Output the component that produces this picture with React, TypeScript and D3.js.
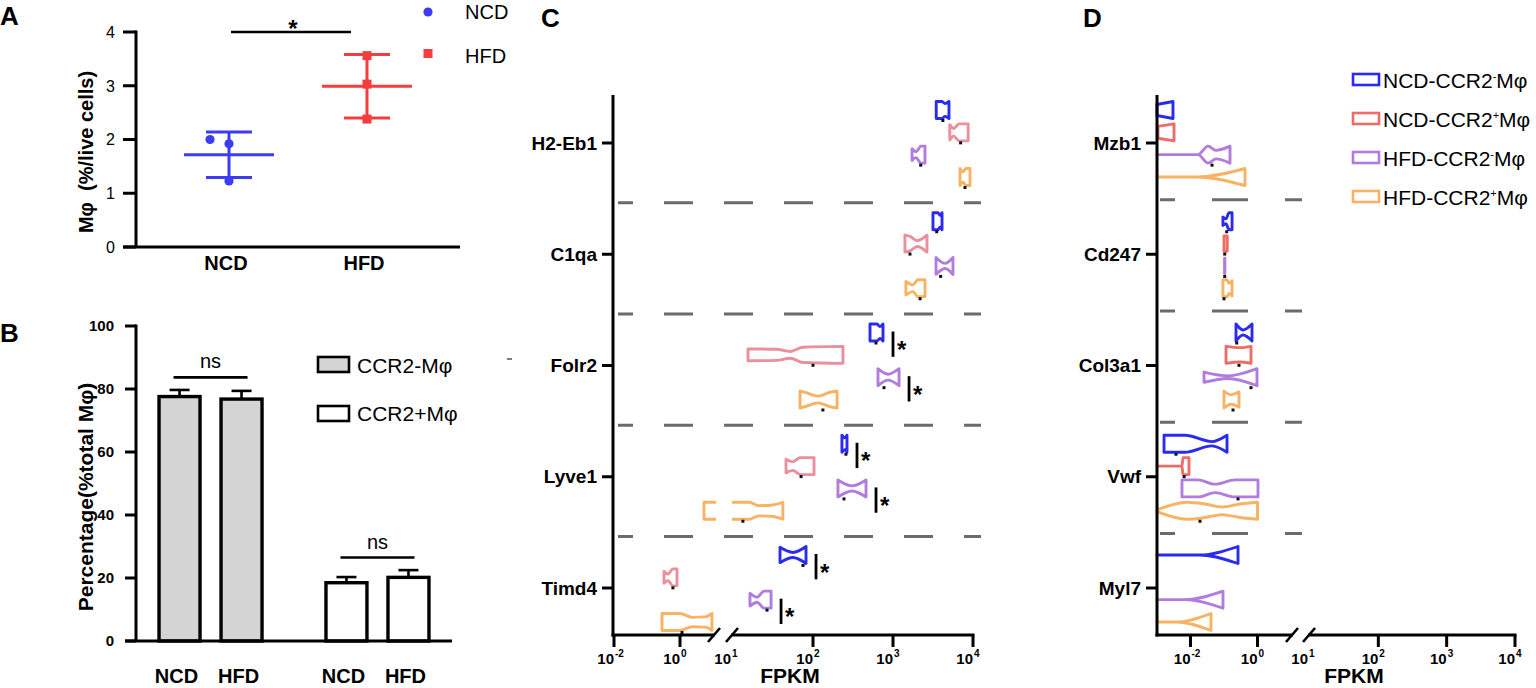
import React from "react";
import * as d3 from "d3";

const FONT = "'Liberation Sans', Arial, Helvetica, sans-serif";

// ---------- panel A : Mφ % of live cells
const aGroups = ["NCD", "HFD"];
const aNcd = [2.0, 1.92, 1.23];
const aHfd = [3.56, 3.03, 2.38];
const aColors = ["#3c3cf4", "#f43d3d"];
const aTicks = [0, 1, 2, 3, 4];

// ---------- panel B : CCR2- / CCR2+ share of Mφ
const bSubsets = ["CCR2-Mφ", "CCR2+Mφ"];
const bDiets = ["NCD", "HFD"];
const bMeanNeg = [77.6, 76.8];
const bErrNeg = [2.1, 2.6];
const bMeanPos = [18.5, 20.2];
const bErrPos = [1.8, 2.3];
const bFills = ["#d4d4d4", "#ffffff"];
const bTicks = [0, 20, 40, 60, 80, 100];

// ---------- panels C, D : FPKM notched profiles [FPKM, relative width]
const cellDiet = ["NCD", "NCD", "HFD", "HFD"];
const cellSign = ["-", "+", "-", "+"];
const cellTypes = ["NCD-CCR2-", "NCD-CCR2+", "HFD-CCR2-", "HFD-CCR2+"];
const colorsC = ["#2b2bf0", "#ea8f9c", "#b07ddc", "#f7b263"];
const colorsD = ["#2b2bf0", "#ec6d67", "#b07ddc", "#f7b263"];

const genesC = ["H2-Eb1", "C1qa", "Folr2", "Lyve1", "Timd4"];
const genesD = ["Mzb1", "Cd247", "Col3a1", "Vwf", "Myl7"];

const h2eb1 = [
  [[3470, 1], [4070, 1], [4470, 0.75], [5010, 1]],
  [[5130, 0.9], [5750, 0.45], [6680, 1], [8700, 1]],
  [[1730, 0.7], [1940, 0.35], [2240, 1], [2510, 1]],
  [[6880, 1], [7500, 0.6], [8180, 1], [9170, 1]],
];
const h2eb1Dots = [4200, 7000, 2220, 7940];
const c1qa = [
  [[3160, 1], [3650, 1], [3870, 0.7], [4100, 1]],
  [[1410, 1], [1630, 0.85], [2000, 0.35], [2660, 1]],
  [[3450, 1], [4470, 0.3], [5620, 1]],
  [[1450, 0.8], [1780, 0.4], [2050, 1], [2510, 1]],
];
const c1qaDots = [3520, 1630, 3940, 2180];
const folr2 = [
  [[516, 1], [631, 1], [688, 0.7], [750, 1]],
  [[15.4, 0.7], [35, 0.65], [52, 0.4], [75, 0.9], [237, 1]],
  [[649, 1], [866, 0.35], [1190, 1]],
  [[68.8, 1], [81.8, 0.8], [115, 0.4], [163, 0.85], [200, 1]],
];
const folr2Dots = [613, 100, 772, 133];
const lyve1 = [
  [[230, 1], [251, 0.7], [266, 1]],
  [[46, 0.8], [56, 0.5], [69, 1], [103, 1]],
  [[205, 1], [307, 0.3], [460, 1]],
  [[5.34, 1], [16, 1], [21, 0.6], [30, 0.65], [42, 1]],
];
const lyve1Dots = [258, 71, 244, 13.3];
const timd4 = [
  [[38.7, 0.9], [56.2, 0.3], [81.8, 1]],
  [[0.327, 0.7], [0.433, 0.4], [0.614, 1], [0.811, 1]],
  [[16.3, 0.75], [20, 0.3], [24.4, 1], [29.9, 1]],
  [[0.285, 1], [1, 1], [2.31, 0.55], [5.73, 0.6], [9.3, 1]],
];
const timd4Dots = [75, 0.61, 26.6, 1.15];

const mzb1 = [
  [[0.001, 0.65], [0.003, 1]],
  [[0.00107, 0.7], [0.00322, 1]],
  [[0.001, 0], [0.0168, 0], [0.0333, 1], [0.0577, 0.5], [0.151, 1]],
  [[0.001, 0], [0.016, 0], [0.424, 1]],
];
const mzb1Dots = [null, null, 0.0439, null];
const cd247 = [
  [[0.093, 0.5], [0.115, 0.3], [0.141, 1], [0.174, 1]],
  [[0.1, 0.9], [0.125, 0.9]],
  [[0.104, 0.9], [0.106, 0.9]],
  [[0.093, 1], [0.123, 1], [0.141, 0.6], [0.174, 0.9]],
];
const cd247Dots = [0.12, 0.105, 0.105, 0.1];
const col3a1 = [
  [[0.228, 1], [0.369, 0.3], [0.686, 1]],
  [[0.115, 1], [0.3, 0.85], [0.64, 1]],
  [[0.0253, 0.6], [0.132, 0.15], [0.966, 1]],
  [[0.1, 1], [0.162, 0.55], [0.28, 0.9]],
];
const col3a1Dots = [0.24, 0.28, 0.64, 0.186];
const vwf = [
  [[0.00162, 1], [0.00685, 1], [0.0439, 0.25], [0.123, 1]],
  [[0.001, 0], [0.00557, 0], [0.00597, 1], [0.00902, 1]],
  [[0.00557, 1], [0.0168, 1], [0.0538, 0.5], [0.213, 1], [1.035, 1]],
  [[0.001, 0.1], [0.00787, 1], [0.0271, 0.8], [0.0871, 0.45], [0.3, 0.8], [1.0, 1]],
];
const vwfDots = [0.00369, 0.00646, 0.262, 0.0192];
const myl7 = [
  [[0.001, 0], [0.0192, 0], [0.262, 1]],
  [],
  [[0.001, 0], [0.00685, 0], [0.0933, 1]],
  [[0.001, 0], [0.00395, 0], [0.0409, 1]],
];
const myl7Dots = [null, null, null, null];

const sigC = [
  { gene: "Folr2", a: 0, b: 1 },
  { gene: "Folr2", a: 2, b: 3 },
  { gene: "Lyve1", a: 0, b: 1 },
  { gene: "Lyve1", a: 2, b: 3 },
  { gene: "Timd4", a: 0, b: 1 },
  { gene: "Timd4", a: 2, b: 3 },
];

const decadeTicks1C = [0.01, 1];
const decadeTicks1D = [0.01, 1];
const decadeTicks2 = [10, 100, 1000, 10000];

type Pt = number[];

function Pow10({ x, y, v }: { x: number; y: number; v: number }) {
  const e = Math.round(Math.log10(v));
  return (
    <g fontFamily={FONT} fontWeight="bold">
      <text x={x} y={y} textAnchor="end" fontSize={15}>10</text>
      <text x={x + 1} y={y - 7} textAnchor="start" fontSize={10}>{e}</text>
    </g>
  );
}

function ProfilePanel(props: {
  id: string;
  genes: string[];
  profiles: Pt[][][];
  dots: (number | null)[][];
  colors: string[];
  axisX: number;
  seg1: [number, number, number, number];
  seg2: [number, number, number, number];
  ticks1: number[];
  dashStart: number;
  dashEnd: number;
  dashArray: string;
  dashOffset: number;
  dashShift: number;
  fpkmX: number;
  sigs: { gene: string; a: number; b: number }[];
}) {
  const { genes, profiles, dots, colors, axisX, seg1, seg2 } = props;
  const y = d3.scalePoint<string>().domain(genes).range([143, 588]);
  const off = d3.scalePoint<string>().domain(cellTypes).range([-33, 34]);
  const x1 = d3.scaleLog().domain([seg1[0], seg1[1]]).range([seg1[2], seg1[3]]);
  const x2 = d3.scaleLog().domain([seg2[0], seg2[1]]).range([seg2[2], seg2[3]]);
  const hh = 8.5;
  const base = 635;
  const top = 95;
  const xAny = (v: number) => (v >= seg2[0] ? x2(v) : x1(v));

  const shape = (xs: d3.ScaleLogarithmic<number, number>, cy: number) =>
    d3
      .area<Pt>()
      .x((d) => xs(d[0]))
      .y0((d) => cy - d[1] * hh)
      .y1((d) => cy + d[1] * hh)
      .curve(d3.curveMonotoneX);

  const dividers = d3.pairs(genes).map(([a, b]) => ((y(a) as number) + (y(b) as number)) / 2 + props.dashShift);

  return (
    <g>
      <defs>
        <clipPath id={props.id + "-s1"}>
          <rect x={seg1[2] - 8} y={top - 10} width={seg1[3] - seg1[2] + 11} height={base - top + 20} />
        </clipPath>
        <clipPath id={props.id + "-s2"}>
          <rect x={seg2[2] - 1} y={top - 10} width={seg2[3] - seg2[2] + 10} height={base - top + 20} />
        </clipPath>
      </defs>
      {dividers.map((dy, i) => (
        <line
          key={"dv" + i}
          x1={props.dashStart}
          x2={props.dashEnd}
          y1={dy}
          y2={dy}
          stroke="#6b6b6b"
          strokeWidth={3}
          strokeDasharray={props.dashArray}
          strokeDashoffset={props.dashOffset}
        />
      ))}
      {genes.map((g, gi) =>
        cellTypes.map((c, ci) => {
          const prof = profiles[gi][ci];
          if (!prof.length) return null;
          const cy = (y(g) as number) + (off(c) as number);
          return (
            <g key={g + c}>
              {[x1, x2].map((xs, si) => (
                <path
                  key={si}
                  clipPath={`url(#${props.id}-s${si + 1})`}
                  d={shape(xs, cy)(prof) || ""}
                  fill="#fff"
                  stroke={colors[ci]}
                  strokeWidth={2.9}
                  strokeLinejoin="round"
                />
              ))}
            </g>
          );
        })
      )}
      {genes.map((g, gi) =>
        cellTypes.map((c, ci) => {
          const v = dots[gi][ci];
          if (v == null) return null;
          const cy = (y(g) as number) + (off(c) as number);
          return <rect key={"d" + g + c} x={xAny(v) - 1.5} y={cy + hh + 0.5} width={3} height={3} fill="#111" />;
        })
      )}
      {props.sigs.map((s, i) => {
        const gi = genes.indexOf(s.gene);
        const all = [...profiles[gi][s.a], ...profiles[gi][s.b]].map((d) => xAny(d[0]));
        const bx = (d3.max(all) as number) + 10;
        const ya = (y(s.gene) as number) + (off(cellTypes[s.a]) as number) - 1;
        const yb = (y(s.gene) as number) + (off(cellTypes[s.b]) as number) + 2;
        return (
          <g key={"s" + i}>
            <line x1={bx} x2={bx} y1={ya} y2={yb} stroke="#000" strokeWidth={2.8} />
            <text x={bx + 4} y={(ya + yb) / 2 + 14} fontFamily={FONT} fontWeight="bold" fontSize={24}>
              *
            </text>
          </g>
        );
      })}
      {/* axes */}
      <line x1={axisX} x2={axisX} y1={top} y2={base + 1.5} stroke="#000" strokeWidth={3} />
      {genes.map((g) => (
        <g key={"t" + g}>
          <line x1={axisX - 11} x2={axisX} y1={y(g)} y2={y(g)} stroke="#000" strokeWidth={3} />
          <text
            x={axisX - 16}
            y={y(g)}
            dy="0.35em"
            textAnchor="end"
            fontFamily={FONT}
            fontWeight="bold"
            fontSize={19}
          >
            {g}
          </text>
        </g>
      ))}
      <line x1={axisX - 1.5} x2={seg1[3] + 2} y1={base} y2={base} stroke="#000" strokeWidth={3} />
      <line x1={seg2[2] - 2} x2={seg2[3] + 1.5} y1={base} y2={base} stroke="#000" strokeWidth={3} />
      {[seg1[3] + 1, seg2[2] - 1].map((sx, i) => (
        <line key={"br" + i} x1={sx - 6} x2={sx + 6} y1={base + 7} y2={base - 7} stroke="#000" strokeWidth={2.6} />
      ))}
      {props.ticks1.map((t) => (
        <g key={"x1" + t}>
          <line x1={x1(t)} x2={x1(t)} y1={base} y2={base + 12} stroke="#000" strokeWidth={3} />
          <Pow10 x={x1(t)} y={664} v={t} />
        </g>
      ))}
      {decadeTicks2.map((t, i) => (
        <g key={"x2" + t}>
          {i > 0 && <line x1={x2(t)} x2={x2(t)} y1={base} y2={base + 12} stroke="#000" strokeWidth={3} />}
          <Pow10 x={x2(t) - (i === 0 ? 2 : 0)} y={664} v={t} />
        </g>
      ))}
      <text x={props.fpkmX} y={683} textAnchor="middle" fontFamily={FONT} fontWeight="bold" fontSize={21}>
        FPKM
      </text>
    </g>
  );
}

function PanelA() {
  const y = d3.scaleLinear().domain([0, 4]).range([247, 32]);
  const x = d3.scalePoint<string>().domain(aGroups).range([136, 460]).padding(0.674);
  const series = [aNcd, aHfd];
  return (
    <g fontFamily={FONT}>
      <text x={0} y={25} fontWeight="bold" fontSize={26}>A</text>
      {series.map((vals, gi) => {
        const g = aGroups[gi];
        const cx = x(g) as number;
        const m = d3.mean(vals) as number;
        const sd = d3.deviation(vals) as number;
        const col = aColors[gi];
        // simple side-by-side placement for overlapping points
        const order = d3.range(vals.length).sort((a, b) => vals[a] - vals[b]);
        const offs: number[] = new Array(vals.length).fill(0);
        order.forEach((idx, k) => {
          if (k > 0) {
            const prev = order[k - 1];
            if (Math.abs(y(vals[idx]) - y(vals[prev])) < 9 && offs[prev] === 0) offs[idx] = -19;
          }
        });
        return (
          <g key={g}>
            {vals.map((v, i) =>
              gi === 0 ? (
                <circle key={i} cx={cx + offs[i]} cy={y(v)} r={4.6} fill={col} />
              ) : (
                <rect key={i} x={cx + offs[i] - 4.5} y={y(v) - 4.5} width={9} height={9} fill={col} />
              )
            )}
            <line x1={cx - 45} x2={cx + 45} y1={y(m)} y2={y(m)} stroke={col} strokeWidth={3} />
            <line x1={cx} x2={cx} y1={y(m + sd)} y2={y(m - sd)} stroke={col} strokeWidth={3} />
            <line x1={cx - 23} x2={cx + 23} y1={y(m + sd)} y2={y(m + sd)} stroke={col} strokeWidth={3} />
            <line x1={cx - 23} x2={cx + 23} y1={y(m - sd)} y2={y(m - sd)} stroke={col} strokeWidth={3} />
            <text x={cx - 3} y={270} textAnchor="middle" fontWeight="bold" fontSize={20}>
              {g}
            </text>
          </g>
        );
      })}
      <line x1={136} x2={136} y1={y(4) - 1.5} y2={y(0)} stroke="#000" strokeWidth={3} />
      <line x1={123} x2={460} y1={y(0)} y2={y(0)} stroke="#000" strokeWidth={3} />
      {aTicks.map((t) => (
        <g key={t}>
          <line x1={123} x2={136} y1={y(t)} y2={y(t)} stroke="#000" strokeWidth={3} />
          <text x={115} y={y(t)} dy="0.36em" textAnchor="end" fontSize={16}>
            {t}
          </text>
        </g>
      ))}
      <text
        transform={`translate(93,${152}) rotate(-90)`}
        textAnchor="middle"
        fontWeight="bold"
        fontSize={20}
        style={{ whiteSpace: "pre" }}
      >
        {"Mφ  (%/live cells)"}
      </text>
      <line x1={(x("NCD") as number) + 2} x2={(x("HFD") as number) - 16} y1={y(4)} y2={y(4)} stroke="#000" strokeWidth={2.6} />
      <text x={293} y={37} textAnchor="middle" fontWeight="bold" fontSize={24}>*</text>
      {aGroups.map((g, i) => (
        <g key={"lg" + g}>
          {i === 0 ? (
            <circle cx={428} cy={12} r={4.6} fill={aColors[0]} />
          ) : (
            <rect x={423.5} y={49} width={9} height={9} fill={aColors[1]} />
          )}
          <text x={465} y={[12, 56][i]} dy="0.36em" fontSize={20}>
            {g}
          </text>
        </g>
      ))}
    </g>
  );
}

function PanelB() {
  const y = d3.scaleLinear().domain([0, 100]).range([641, 326]);
  const x0 = d3.scaleBand<string>().domain(bSubsets).range([136, 452]).paddingInner(0.383).paddingOuter(0.138);
  const x1 = d3.scaleBand<string>().domain(bDiets).range([0, x0.bandwidth()]).paddingInner(0.339);
  const means = [bMeanNeg, bMeanPos];
  const errs = [bErrNeg, bErrPos];
  return (
    <g fontFamily={FONT}>
      <text x={0} y={342} fontWeight="bold" fontSize={26}>B</text>
      {bSubsets.map((s, si) => {
        const gx = x0(s) as number;
        const top = d3.max(means[si].map((m, i) => m + errs[si][i])) as number;
        const c0 = gx + (x1("NCD") as number) + x1.bandwidth() / 2;
        const c1 = gx + (x1("HFD") as number) + x1.bandwidth() / 2;
        return (
          <g key={s}>
            {bDiets.map((d, di) => {
              const bx = gx + (x1(d) as number);
              const m = means[si][di];
              const e = errs[si][di];
              const cx = bx + x1.bandwidth() / 2;
              return (
                <g key={d}>
                  <line x1={cx} x2={cx} y1={y(m)} y2={y(m + e)} stroke="#000" strokeWidth={2.6} />
                  <line x1={cx - 10} x2={cx + 10} y1={y(m + e)} y2={y(m + e)} stroke="#000" strokeWidth={2.6} />
                  <rect
                    x={bx}
                    y={y(m)}
                    width={x1.bandwidth()}
                    height={y(0) - y(m)}
                    fill={bFills[si]}
                    stroke="#000"
                    strokeWidth={3.4}
                  />
                  <text x={cx - 3} y={683} textAnchor="middle" fontWeight="bold" fontSize={20}>
                    {d}
                  </text>
                </g>
              );
            })}
            <line x1={c0 - 6} x2={c1 + 6} y1={y(top + 4)} y2={y(top + 4)} stroke="#000" strokeWidth={2.6} />
            <text x={(c0 + c1) / 2} y={y(top + 4) - 9} textAnchor="middle" fontSize={20}>
              ns
            </text>
          </g>
        );
      })}
      <line x1={136} x2={136} y1={y(100) - 1.5} y2={y(0)} stroke="#000" strokeWidth={3} />
      <line x1={125} x2={452} y1={y(0)} y2={y(0)} stroke="#000" strokeWidth={3} />
      {bTicks.map((t) => (
        <g key={t}>
          <line x1={125} x2={136} y1={y(t)} y2={y(t)} stroke="#000" strokeWidth={3} />
          <text x={114} y={y(t)} dy="0.36em" textAnchor="end" fontWeight="bold" fontSize={15}>
            {t}
          </text>
        </g>
      ))}
      <text transform={`translate(93,497) rotate(-90)`} textAnchor="middle" fontWeight="bold" fontSize={21}>
        Percentage(%total Mφ)
      </text>
      {bSubsets.map((s, i) => (
        <g key={"lg" + s}>
          <rect x={318} y={[357, 406][i]} width={31} height={15} fill={bFills[i]} stroke="#000" strokeWidth={2.6} />
          <text x={357} y={[365, 413][i]} dy="0.36em" fontSize={21}>
            {s}
          </text>
        </g>
      ))}
      <line x1={507} x2={512} y1={359} y2={359} stroke="#000" strokeWidth={1} />
    </g>
  );
}

function LegendD() {
  const rows = [80, 119, 158, 197];
  return (
    <g fontFamily={FONT}>
      {cellTypes.map((c, i) => (
        <g key={c}>
          <rect x={1353} y={rows[i] - 6} width={26} height={11} fill="#fff" stroke={colorsD[i]} strokeWidth={2.6} />
          <text x={1383} y={rows[i]} dy="0.36em" fontSize={21}>
            {cellDiet[i]}-CCR2
            <tspan dy={-8} fontSize={11}>
              {cellSign[i]}
            </tspan>
            <tspan dy={8}>Mφ</tspan>
          </text>
        </g>
      ))}
    </g>
  );
}

export default function App() {
  return (
    <svg width={1536} height={688} style={{ position: "absolute", left: 0, top: 0, background: "#fff" }}>
      <rect width={1536} height={688} fill="#fff" />
      <PanelA />
      <PanelB />
      <text x={541} y={27} fontFamily={FONT} fontWeight="bold" fontSize={26}>C</text>
      <ProfilePanel
        id="pc"
        genes={genesC}
        profiles={[h2eb1, c1qa, folr2, lyve1, timd4]}
        dots={[h2eb1Dots, c1qaDots, folr2Dots, lyve1Dots, timd4Dots]}
        colors={colorsC}
        axisX={613}
        seg1={[0.01, 10, 614, 713]}
        seg2={[10, 10000, 733, 973]}
        ticks1={decadeTicks1C}
        dashStart={618}
        dashEnd={981}
        dashArray="29 31"
        dashOffset={14}
        dashShift={4}
        fpkmX={790}
        sigs={sigC}
      />
      <text x={1083} y={27} fontFamily={FONT} fontWeight="bold" fontSize={26}>D</text>
      <ProfilePanel
        id="pd"
        genes={genesD}
        profiles={[mzb1, cd247, col3a1, vwf, myl7]}
        dots={[mzb1Dots, cd247Dots, col3a1Dots, vwfDots, myl7Dots]}
        colors={colorsD}
        axisX={1157}
        seg1={[0.001, 10, 1157, 1291]}
        seg2={[10, 10000, 1310, 1515]}
        ticks1={decadeTicks1D}
        dashStart={1160}
        dashEnd={1302}
        dashArray="36 37"
        dashOffset={21}
        dashShift={1}
        fpkmX={1354}
        sigs={[]}
      />
      <LegendD />
    </svg>
  );
}
